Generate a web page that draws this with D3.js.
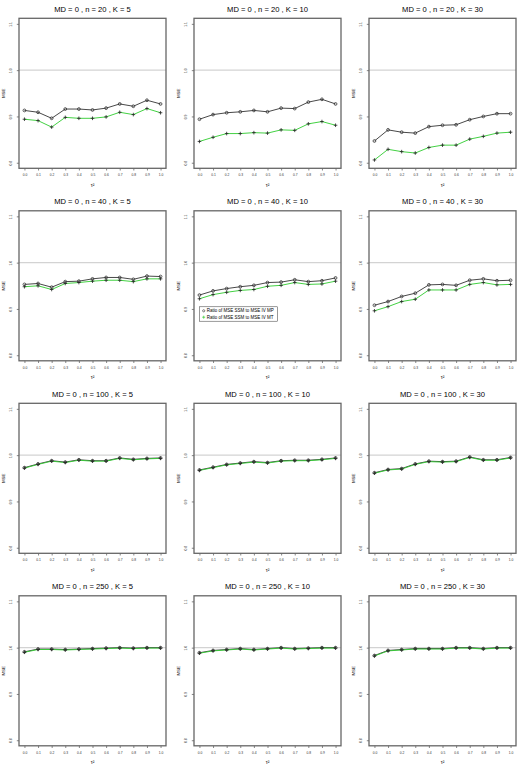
<!DOCTYPE html>
<html>
<head>
<meta charset="utf-8">
<script src="https://cdn.jsdelivr.net/npm/d3@7"></script>
<style>
  body { margin: 0; background: #fff; }
  text { font-family: "Liberation Sans", Arial, Helvetica, sans-serif; }
</style>
</head>
<body>
<div class="chart"></div>
<script>
var width = 525;
var height = 770;

// data
var tau2 = [0, 0.1, 0.2, 0.3, 0.4, 0.5, 0.6, 0.7, 0.8, 0.9, 1.0];
var tauLabels = ["0.0", "0.1", "0.2", "0.3", "0.4", "0.5", "0.6", "0.7", "0.8", "0.9", "1.0"];
var yTicks = [0.8, 0.9, 1.0, 1.1];
var yLabels = ["0.8", "0.9", "1.0", "1.1"];
var nValues = [20, 40, 100, 250];
var kValues = [5, 10, 30];
var legendLabels = ["Ratio of MSE SSM to MSE IV MP", "Ratio of MSE SSM to MSE IV MT"];

// MP series (black, circles)
var mp_20_5   = [0.913, 0.909, 0.896, 0.916, 0.916, 0.914, 0.918, 0.927, 0.922, 0.935, 0.927];
var mp_20_10  = [0.894, 0.904, 0.908, 0.910, 0.913, 0.910, 0.918, 0.917, 0.931, 0.937, 0.927];
var mp_20_30  = [0.847, 0.871, 0.866, 0.864, 0.878, 0.881, 0.882, 0.893, 0.900, 0.906, 0.906];
var mp_40_5   = [0.953, 0.955, 0.947, 0.959, 0.960, 0.965, 0.968, 0.968, 0.964, 0.971, 0.970];
var mp_40_10  = [0.930, 0.939, 0.944, 0.948, 0.951, 0.957, 0.958, 0.963, 0.959, 0.961, 0.967];
var mp_40_30  = [0.908, 0.916, 0.927, 0.934, 0.952, 0.953, 0.951, 0.962, 0.965, 0.961, 0.962];
var mp_100_5  = [0.973, 0.981, 0.988, 0.985, 0.990, 0.988, 0.988, 0.994, 0.991, 0.993, 0.994];
var mp_100_10 = [0.968, 0.974, 0.980, 0.983, 0.986, 0.984, 0.988, 0.989, 0.989, 0.991, 0.994];
var mp_100_30 = [0.962, 0.969, 0.971, 0.981, 0.987, 0.986, 0.987, 0.996, 0.990, 0.990, 0.995];
var mp_250_5  = [0.991, 0.997, 0.997, 0.996, 0.997, 0.998, 0.999, 1.000, 0.999, 1.000, 1.000];
var mp_250_10 = [0.989, 0.994, 0.996, 0.998, 0.996, 0.998, 1.000, 0.998, 0.999, 1.000, 1.000];
var mp_250_30 = [0.983, 0.994, 0.996, 0.998, 0.998, 0.998, 1.000, 1.000, 0.998, 1.000, 1.000];

// MT series (green, plus)
var mt_20_5   = [0.894, 0.891, 0.877, 0.898, 0.896, 0.896, 0.899, 0.909, 0.904, 0.917, 0.908];
var mt_20_10  = [0.846, 0.855, 0.863, 0.863, 0.865, 0.864, 0.871, 0.870, 0.884, 0.889, 0.881];
var mt_20_30  = [0.806, 0.829, 0.824, 0.821, 0.833, 0.838, 0.838, 0.851, 0.857, 0.864, 0.866];
var mt_40_5   = [0.948, 0.950, 0.942, 0.955, 0.957, 0.960, 0.962, 0.962, 0.959, 0.965, 0.965];
var mt_40_10  = [0.922, 0.931, 0.936, 0.940, 0.942, 0.949, 0.951, 0.957, 0.953, 0.954, 0.960];
var mt_40_30  = [0.896, 0.905, 0.916, 0.921, 0.941, 0.941, 0.941, 0.953, 0.957, 0.952, 0.953];
var mt_100_5  = [0.972, 0.980, 0.987, 0.984, 0.989, 0.987, 0.987, 0.993, 0.990, 0.992, 0.993];
var mt_100_10 = [0.967, 0.973, 0.979, 0.982, 0.985, 0.983, 0.987, 0.988, 0.988, 0.990, 0.993];
var mt_100_30 = [0.961, 0.968, 0.970, 0.980, 0.986, 0.985, 0.986, 0.995, 0.989, 0.989, 0.994];
var mt_250_5  = [0.990, 0.996, 0.996, 0.995, 0.996, 0.997, 0.998, 0.999, 0.998, 0.999, 0.999];
var mt_250_10 = [0.988, 0.993, 0.995, 0.997, 0.995, 0.997, 0.999, 0.997, 0.998, 0.999, 0.999];
var mt_250_30 = [0.982, 0.993, 0.995, 0.997, 0.997, 0.997, 0.999, 0.999, 0.997, 0.999, 0.999];

var mpRows = [[mp_20_5, mp_20_10, mp_20_30], [mp_40_5, mp_40_10, mp_40_30],
              [mp_100_5, mp_100_10, mp_100_30], [mp_250_5, mp_250_10, mp_250_30]];
var mtRows = [[mt_20_5, mt_20_10, mt_20_30], [mt_40_5, mt_40_10, mt_40_30],
              [mt_100_5, mt_100_10, mt_100_30], [mt_250_5, mt_250_10, mt_250_30]];

var cellW = 175, cellH = 192.5;
var box = {left: 19, right: 166, top: 18.3, bottom: 168.3};
var boxColor = "#666";
var darkLine = "#333";
var greenLine = "#2ecc2e";

var svg = d3.select(".chart").append("svg")
  .attr("width", width)
  .attr("height", height);

var x = d3.scaleLinear().domain([-0.04, 1.04]).range([box.left, box.right]);
var y = d3.scaleLinear().domain([0.788, 1.112]).range([box.bottom, box.top]);

var line = d3.line()
  .x(function(d, i) { return x(tau2[i]); })
  .y(function(d) { return y(d); });

function plusPath(px, py, s) {
  return "M" + (px - s) + "," + py + "H" + (px + s) + "M" + px + "," + (py - s) + "V" + (py + s);
}

nValues.forEach(function(n, r) {
  kValues.forEach(function(k, c) {
    var g = svg.append("g")
      .attr("transform", "translate(" + (c * cellW) + "," + (r * cellH) + ")");

    // title
    g.append("text")
      .attr("x", (box.left + box.right) / 2)
      .attr("y", 11.8)
      .attr("text-anchor", "middle")
      .style("font-size", "7.6px")
      .text("MD = 0 , n = " + n + " , K = " + k);

    // reference line at 1
    g.append("line")
      .attr("x1", box.left).attr("x2", box.right)
      .attr("y1", y(1)).attr("y2", y(1))
      .attr("stroke", "#d3d3d3")
      .attr("stroke-width", 1.2);

    // axes
    var xAxis = g.append("g")
      .attr("transform", "translate(0," + box.bottom + ")")
      .call(d3.axisBottom(x).tickValues(tau2)
        .tickFormat(function(d, i) { return tauLabels[i]; })
        .tickSize(2.2).tickPadding(3.6));
    xAxis.select(".domain").remove();
    xAxis.selectAll("line").attr("stroke", darkLine).attr("stroke-width", 0.6);
    xAxis.selectAll("text").style("font-size", "3.3px").attr("fill", "#333");

    var yAxis = g.append("g")
      .attr("transform", "translate(" + box.left + ",0)")
      .call(d3.axisLeft(y).tickValues(yTicks)
        .tickFormat(function(d, i) { return yLabels[i]; })
        .tickSize(2.2));
    yAxis.select(".domain").remove();
    yAxis.selectAll("line").attr("stroke", darkLine).attr("stroke-width", 0.6);
    yAxis.selectAll("text")
      .style("font-size", "3.3px")
      .attr("fill", "#333")
      .attr("x", 0).attr("dy", null)
      .attr("text-anchor", "middle")
      .attr("transform", "translate(-7.5,0) rotate(-90)");

    // box
    g.append("rect")
      .attr("x", box.left).attr("y", box.top)
      .attr("width", box.right - box.left)
      .attr("height", box.bottom - box.top)
      .attr("fill", "none")
      .attr("stroke", boxColor)
      .attr("stroke-width", 1.3);

    // axis titles
    g.append("text")
      .attr("transform", "translate(4.6," + ((box.top + box.bottom) / 2) + ") rotate(-90)")
      .attr("text-anchor", "middle")
      .style("font-size", "4.4px")
      .text("MSE");

    g.append("text")
      .attr("x", (box.left + box.right) / 2)
      .attr("y", 186.5)
      .attr("text-anchor", "middle")
      .style("font-size", "5px")
      .text("τ²");

    var mp = mpRows[r][c];
    var mt = mtRows[r][c];

    // series lines
    g.append("path")
      .datum(mp)
      .attr("d", line)
      .attr("fill", "none")
      .attr("stroke", darkLine)
      .attr("stroke-width", 0.9);

    g.append("path")
      .datum(mt)
      .attr("d", line)
      .attr("fill", "none")
      .attr("stroke", greenLine)
      .attr("stroke-width", 0.9);

    // markers
    g.selectAll(".mp-pt")
      .data(mp)
      .enter().append("circle")
        .attr("class", "mp-pt")
        .attr("cx", function(d, i) { return x(tau2[i]); })
        .attr("cy", function(d) { return y(d); })
        .attr("r", 1.4)
        .attr("fill", "none")
        .attr("stroke", darkLine)
        .attr("stroke-width", 0.8);

    g.selectAll(".mt-pt")
      .data(mt)
      .enter().append("path")
        .attr("class", "mt-pt")
        .attr("d", function(d, i) { return plusPath(x(tau2[i]), y(d), 1.8); })
        .attr("stroke", "#222")
        .attr("stroke-width", 0.8);

    // legend in the n = 40, K = 10 panel
    if (n === 40 && k === 10) {
      var lg = g.append("g");
      lg.append("rect")
        .attr("x", 24.3).attr("y", 114.3)
        .attr("width", 78).attr("height", 14.4)
        .attr("fill", "#fff")
        .attr("stroke", "#333")
        .attr("stroke-width", 0.5);
      lg.append("circle")
        .attr("cx", 28.7).attr("cy", 118.3).attr("r", 1.1)
        .attr("fill", "none").attr("stroke", darkLine).attr("stroke-width", 0.6);
      lg.append("path")
        .attr("d", plusPath(28.7, 124.7, 1.5))
        .attr("stroke", greenLine).attr("stroke-width", 0.7);
      lg.selectAll(".lg-text")
        .data(legendLabels)
        .enter().append("text")
          .attr("class", "lg-text")
          .attr("x", 31.7)
          .attr("y", function(d, i) { return 119.9 + i * 6.4; })
          .style("font-size", "4.5px")
          .text(function(d) { return d; });
    }
  });
});
</script>
</body>
</html>
